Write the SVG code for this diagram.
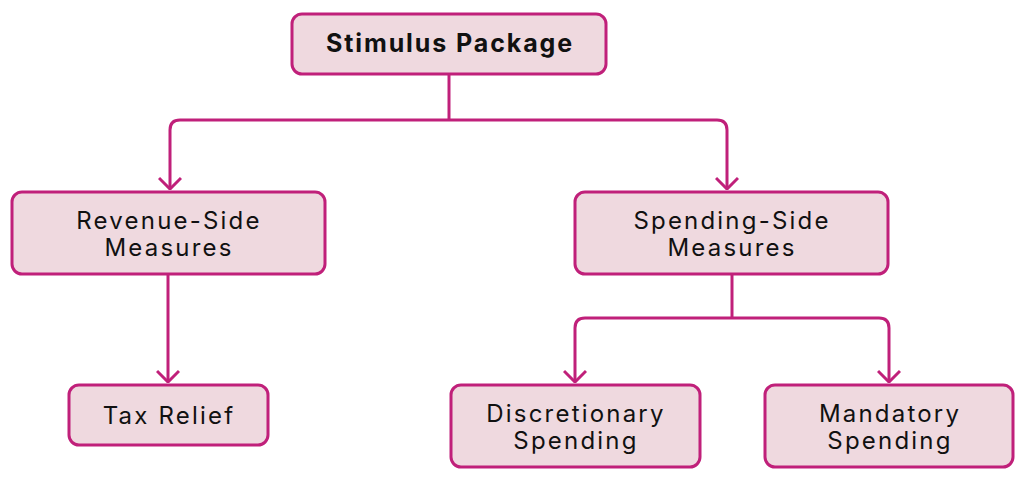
<svg xmlns="http://www.w3.org/2000/svg" width="1024" height="478" viewBox="0 0 1024 478">
<style>
.box{fill:#efd9df;stroke:#c0207a;stroke-width:3}
.t{font-family:Inter,"Liberation Sans",sans-serif;font-size:24px;letter-spacing:2.2px;fill:#111;text-anchor:middle}
.b{font-weight:bold;font-size:25px;letter-spacing:1.9px}
.c{fill:none;stroke:#c0207a;stroke-width:3}
</style>
<defs>
<marker id="ah" viewBox="0 0 20 24" refX="19" refY="12" markerWidth="20" markerHeight="24" markerUnits="userSpaceOnUse" orient="auto">
<path d="M8,1 L19,12 L8,23" fill="none" stroke="#c0207a" stroke-width="3"/>
</marker>
</defs>
<g id="connectors">
<path class="c" d="M449,74 V120"/>
<path class="c" d="M449,120 H180 Q170,120 170,130 V189" marker-end="url(#ah)"/>
<path class="c" d="M449,120 H717 Q727,120 727,130 V189" marker-end="url(#ah)"/>
<path class="c" d="M168,274 V382" marker-end="url(#ah)"/>
<path class="c" d="M732,274 V318"/>
<path class="c" d="M732,318 H585 Q575,318 575,328 V382" marker-end="url(#ah)"/>
<path class="c" d="M732,318 H879 Q889,318 889,328 V382" marker-end="url(#ah)"/>
</g>
<g id="stimulus">
<rect class="box" x="292" y="14" width="314" height="60" rx="10"/>
<text class="t b" x="450" y="52">Stimulus Package</text>
</g>
<g id="revenue">
<rect class="box" x="12" y="192" width="313" height="82" rx="10"/>
<text class="t" x="169" y="229">Revenue-Side</text>
<text class="t" x="169" y="256">Measures</text>
</g>
<g id="spending">
<rect class="box" x="575" y="192" width="313" height="82" rx="10"/>
<text class="t" x="732" y="229">Spending-Side</text>
<text class="t" x="732" y="256">Measures</text>
</g>
<g id="tax">
<rect class="box" x="69" y="385" width="199" height="60" rx="10"/>
<text class="t" x="169" y="424">Tax Relief</text>
</g>
<g id="discretionary">
<rect class="box" x="451" y="385" width="249" height="82" rx="10"/>
<text class="t" x="576" y="422">Discretionary</text>
<text class="t" x="576" y="449">Spending</text>
</g>
<g id="mandatory">
<rect class="box" x="765" y="385" width="248" height="82" rx="10"/>
<text class="t" x="890" y="422">Mandatory</text>
<text class="t" x="890" y="449">Spending</text>
</g>
</svg>
